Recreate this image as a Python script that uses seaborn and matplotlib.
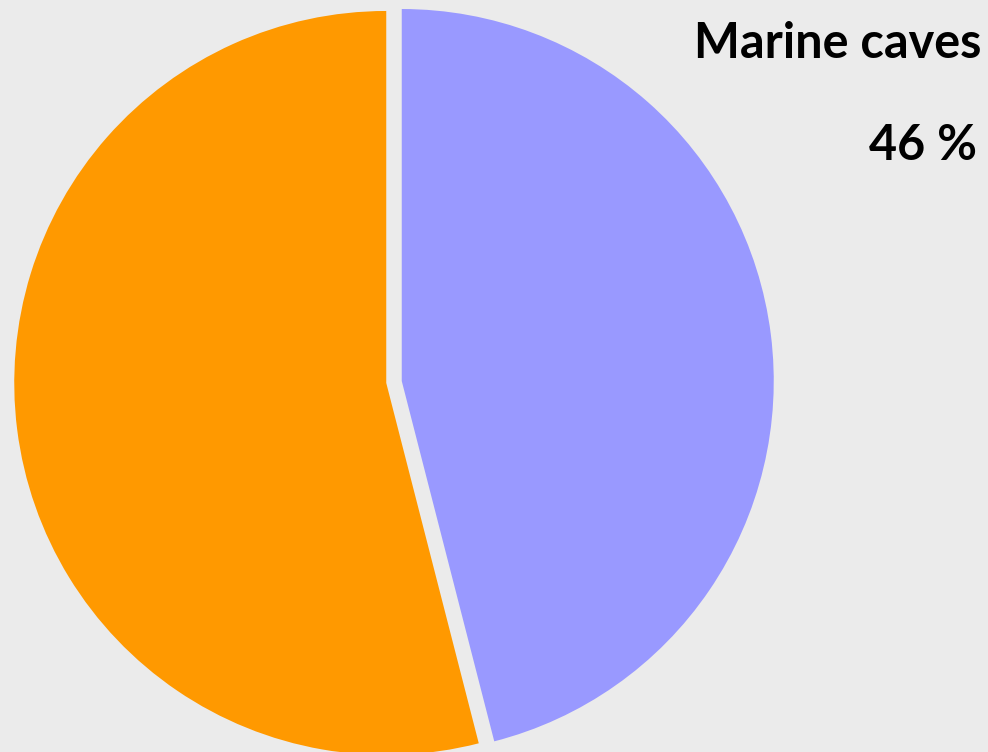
import matplotlib
matplotlib.use("Agg")
import matplotlib.pyplot as plt
import seaborn as sns

categories = ["Marine caves", "Other"]
shares = [46, 54]
colors = ["#9999FF", "#FF9900"]

BG = "#EBEBEB"
sns.set_theme(style="white", rc={"figure.facecolor": BG, "axes.facecolor": BG})
plt.rcParams["font.family"] = ["Lato", "DejaVu Sans"]

W, H = 988, 752
fig = plt.figure(figsize=(W / 100, H / 100), dpi=100)
ax = fig.add_axes([0, 0, 1, 1])
ax.set_facecolor(BG)

cx, cy, R = 394, 382, 372
ax.pie(shares, colors=sns.color_palette(colors), startangle=90, counterclock=False,
       explode=[0.021, 0.021], radius=1.0,
       wedgeprops=dict(linewidth=0))
ax.set_aspect("equal")
ax.set_xlim(-cx / R, (W - cx) / R)
ax.set_ylim(-(H - cy) / R, cy / R)
ax.axis("off")

fig.text(981 / W, 1 - 44 / H, categories[0], ha="right", va="center",
         fontsize=35, fontweight="bold", color="black")
fig.text(977 / W, 1 - 145 / H, f"{shares[0]} %", ha="right", va="center",
         fontsize=35, fontweight="bold", color="black")

fig.savefig("out.png", dpi=100, facecolor=BG)
